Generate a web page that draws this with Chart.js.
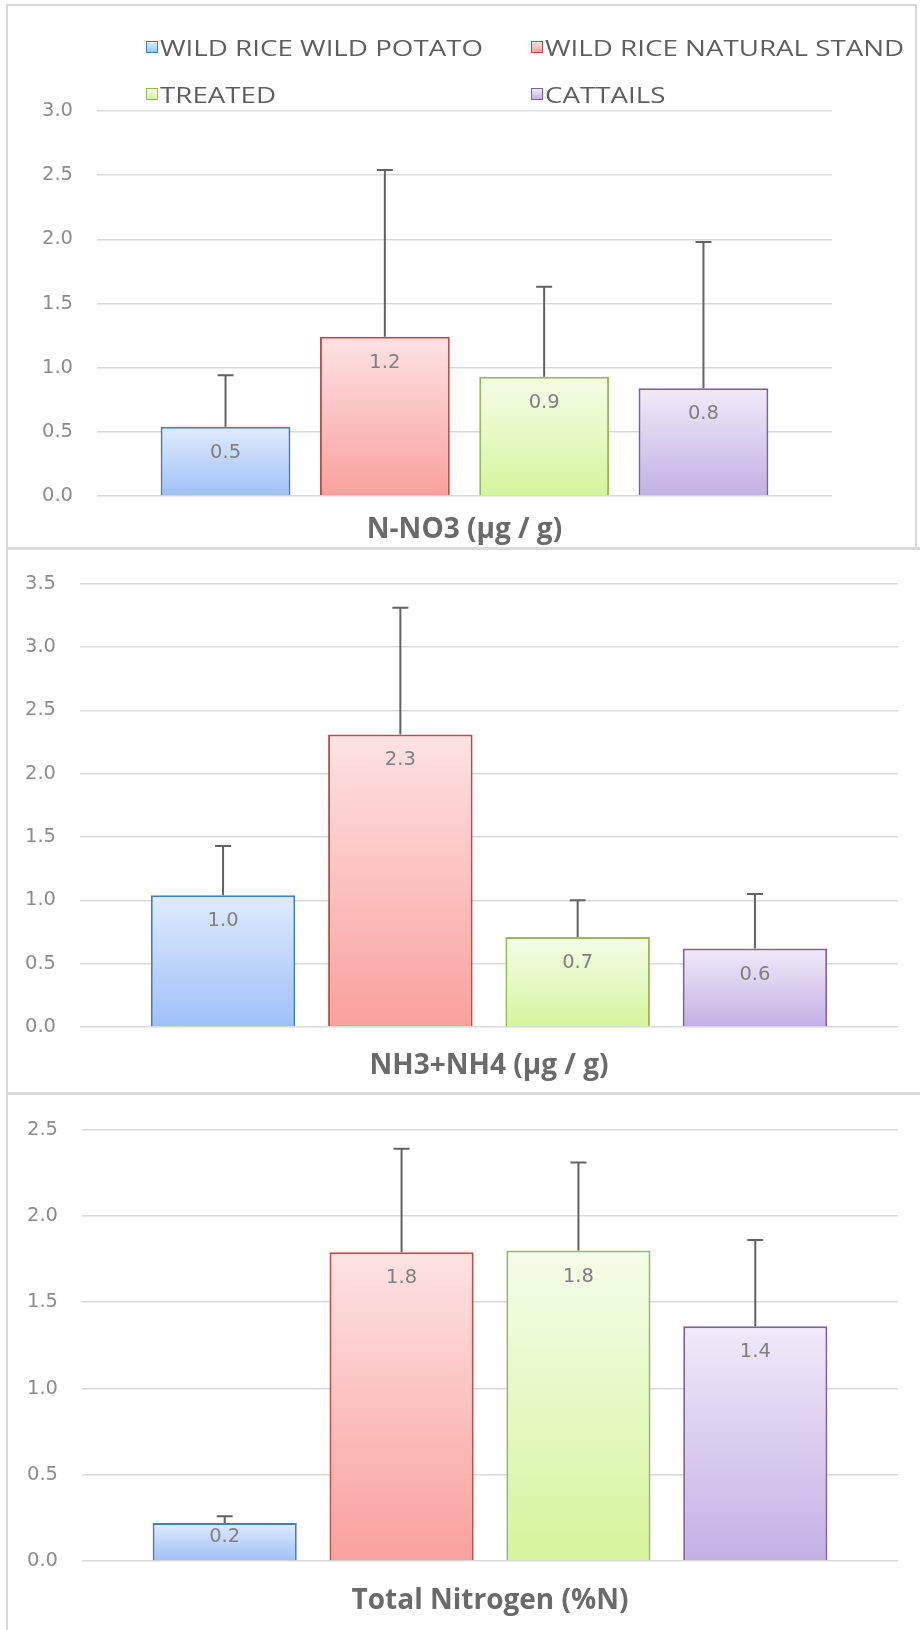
<!DOCTYPE html>
<html><head><meta charset="utf-8">
<script src="https://cdn.jsdelivr.net/npm/chart.js@4.4.1/dist/chart.umd.min.js"></script>
<style>
html,body{margin:0;padding:0;background:#fff;}
#wrap{position:relative;width:920px;height:1630px;overflow:hidden;background:#fff;}
canvas{position:absolute;left:0;}
.frame{position:absolute;background:#d9d9d9;}
.sw{position:absolute;width:12px;height:12px;box-sizing:border-box;border:1.5px solid;}
.lt{position:absolute;white-space:nowrap;height:30px;line-height:30px;font-family:"Open Sans";font-size:22px;color:#5e5e5e;transform:scaleX(1.26);transform-origin:left center;}
</style></head>
<body><div id="wrap">
<canvas id="c1" width="920" height="548" style="top:0px"></canvas>
<canvas id="c2" width="920" height="546" style="top:548px"></canvas>
<canvas id="c3" width="920" height="536" style="top:1094px"></canvas>
<div id="legend"></div>
<div class="frame" style="left:6px;top:4px;width:911px;height:2px"></div>
<div class="frame" style="left:915px;top:4px;width:2px;height:545px"></div>
<div class="frame" style="left:6px;top:4px;width:2px;height:1626px"></div>
<div class="frame" style="left:6px;top:547px;width:914px;height:3px"></div>
<div class="frame" style="left:6px;top:1092px;width:914px;height:3px"></div>
</div>
<script>
const seriesNames = ['WILD RICE WILD POTATO','WILD RICE NATURAL STAND','TREATED','CATTAILS'];
const panelLabels = ['N-NO3 (µg / g)','NH3+NH4 (µg / g)','Total Nitrogen (%N)'];
const no3Values = [0.54, 1.24, 0.93, 0.84];
const no3Errors = [0.40, 1.30, 0.70, 1.14];
const nh4Values = [1.04, 2.31, 0.71, 0.62];
const nh4Errors = [0.39, 1.00, 0.29, 0.43];
const totalNValues = [0.22, 1.79, 1.80, 1.36];
const totalNErrors = [0.04, 0.60, 0.51, 0.50];
const yMaxes = [3.0, 3.5, 2.5];
const yStep = 0.5;

const borderColors = ['#4a7ebb','#be4b48','#98b954','#7d60a0'];
const gradTop = ['#e0ebfd','#fde3e3','#f4fde9','#f0eaf8'];
const gradBottom = ['#9ec0f8','#f9a09d','#d5f59b','#c2b0e5'];

// HTML legend (two aligned columns)
const legendPos = [[146,47],[531,47],[146,94],[531,94]];
const legend = document.getElementById('legend');
seriesNames.forEach((n,i)=>{
  const [x,y] = legendPos[i];
  const s = document.createElement('div');
  s.className='sw';
  s.style.left = x+'px'; s.style.top = (y-6)+'px';
  s.style.borderColor = borderColors[i];
  s.style.background = 'linear-gradient(' + gradTop[i] + ',' + gradBottom[i] + ')';
  legend.appendChild(s);
  const t = document.createElement('div');
  t.className='lt';
  t.style.left = (x+14)+'px'; t.style.top = (y-15)+'px';
  t.textContent = n;
  legend.appendChild(t);
});

const overlay = {
  id:'overlay',
  afterDatasetsDraw(chart){
    const ctx = chart.ctx, ys = chart.scales.y;
    const errs = chart.options.plugins.overlay.errors;
    chart.data.datasets.forEach((ds,i)=>{
      const meta = chart.getDatasetMeta(i);
      meta.data.forEach((bar,j)=>{
        const v = ds.data[j];
        const top = ys.getPixelForValue(v + errs[i]);
        ctx.save();
        ctx.strokeStyle = '#626262'; ctx.lineWidth = 2;
        ctx.beginPath();
        ctx.moveTo(bar.x, bar.y); ctx.lineTo(bar.x, top);
        ctx.moveTo(bar.x-8, top); ctx.lineTo(bar.x+8, top);
        ctx.stroke();
        const h = bar.base - bar.y;
        const ly = bar.y + Math.min(26, h*0.38);
        ctx.fillStyle = '#808080';
        ctx.font = '19.5px "DejaVu Sans"';
        ctx.textAlign = 'center'; ctx.textBaseline = 'middle';
        ctx.fillText(v.toFixed(1), bar.x, ly);
        ctx.restore();
      });
    });
  }
};

function makeChart(id, values, errors, label, yMax, lay){
  const datasets = seriesNames.map((n,i)=>({
    label:n,
    data:[values[i]],
    borderColor:borderColors[i],
    borderWidth:2,
    backgroundColor:(c)=>{
      const ch = c.chart;
      if(!ch.chartArea || !ch.scales.y) return gradBottom[i];
      const ys = ch.scales.y;
      const t = ys.getPixelForValue(values[i]);
      const b = ys.getPixelForValue(0);
      const g = ch.ctx.createLinearGradient(0,t,0,b);
      g.addColorStop(0,gradTop[i]); g.addColorStop(1,gradBottom[i]);
      return g;
    },
    categoryPercentage:0.867,
    barPercentage:0.815
  }));
  return new Chart(document.getElementById(id),{
    type:'bar',
    data:{labels:[label], datasets},
    plugins:[overlay],
    options:{
      responsive:false, animation:false, devicePixelRatio:1,
      layout:{padding:{left:0,right:lay.right,top:lay.top,bottom:0}},
      plugins:{legend:{display:false}, tooltip:{enabled:false}, overlay:{errors}},
      scales:{
        x:{
          grid:{display:false, drawTicks:false},
          border:{display:false},
          ticks:{padding:lay.tickPad, color:'#6a6a6a', font:{family:'"Open Sans"', size:28, weight:'bold'}},
          afterFit:(s)=>{ s.height = lay.xHeight; }
        },
        y:{
          min:0, max:yMax,
          grid:{color:'#d9d9d9', lineWidth:1.5, drawTicks:false},
          border:{display:false},
          ticks:{stepSize:yStep, padding:24, color:'#8c8c8c', font:{family:'"DejaVu Sans"', size:19.5},
            callback:(v)=>Number(v).toFixed(1)},
          afterFit:(s)=>{ s.width = lay.yWidth; }
        }
      }
    }
  });
}

makeChart('c1', no3Values, no3Errors, panelLabels[0], yMaxes[0], {right:88, top:111, yWidth:97, xHeight:52, tickPad:17});
makeChart('c2', nh4Values, nh4Errors, panelLabels[1], yMaxes[1], {right:22, top:31, yWidth:80, xHeight:67, tickPad:22});
makeChart('c3', totalNValues, totalNErrors, panelLabels[2], yMaxes[2], {right:22, top:34, yWidth:82, xHeight:69, tickPad:23});
</script>
</body></html>
